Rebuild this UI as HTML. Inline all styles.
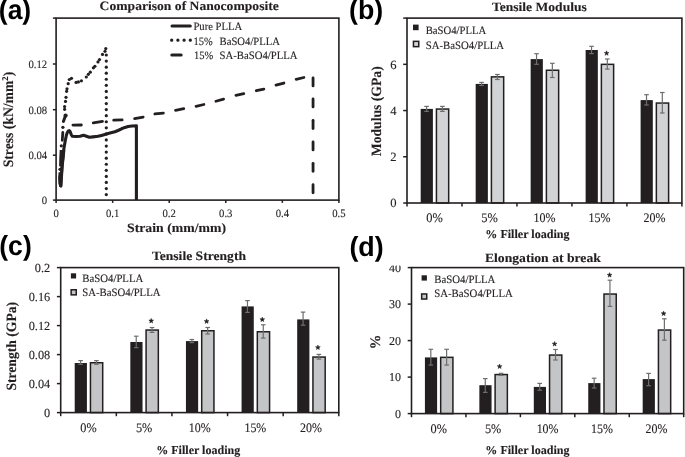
<!DOCTYPE html><html><head><meta charset="utf-8"><style>html,body{margin:0;padding:0;background:#fff;}svg{display:block;text-rendering:geometricPrecision;will-change:transform;}text{font-family:"Liberation Serif",serif;}</style></head><body>
<svg width="685" height="457" viewBox="0 0 685 457">
<rect width="685" height="457" fill="#fff"/>
<rect x="56.1" y="18.1" width="282.79999999999995" height="182.0" fill="none" stroke="#231f20" stroke-width="1.6"/>
<line x1="52.9" y1="200.1" x2="56.1" y2="200.1" stroke="#231f20" stroke-width="1.5"/>
<line x1="52.9" y1="155.2" x2="56.1" y2="155.2" stroke="#231f20" stroke-width="1.5"/>
<line x1="52.9" y1="109.7" x2="56.1" y2="109.7" stroke="#231f20" stroke-width="1.5"/>
<line x1="52.9" y1="64.0" x2="56.1" y2="64.0" stroke="#231f20" stroke-width="1.5"/>
<line x1="52.9" y1="18.1" x2="56.1" y2="18.1" stroke="#231f20" stroke-width="1.5"/>
<line x1="56.1" y1="200.1" x2="56.1" y2="202.9" stroke="#231f20" stroke-width="1.5"/>
<line x1="112.66" y1="200.1" x2="112.66" y2="202.9" stroke="#231f20" stroke-width="1.5"/>
<line x1="169.21999999999997" y1="200.1" x2="169.21999999999997" y2="202.9" stroke="#231f20" stroke-width="1.5"/>
<line x1="225.77999999999997" y1="200.1" x2="225.77999999999997" y2="202.9" stroke="#231f20" stroke-width="1.5"/>
<line x1="282.34" y1="200.1" x2="282.34" y2="202.9" stroke="#231f20" stroke-width="1.5"/>
<line x1="338.9" y1="200.1" x2="338.9" y2="202.9" stroke="#231f20" stroke-width="1.5"/>
<g font-family="Liberation Serif" fill="#231f20" stroke="#231f20" stroke-width="0.12">
<text x="47.2" y="203.9" font-size="11.3" text-anchor="end" textLength="5.35" lengthAdjust="spacingAndGlyphs" >0</text>
<text x="47.2" y="159.0" font-size="11.3" text-anchor="end" textLength="18.73" lengthAdjust="spacingAndGlyphs" >0.04</text>
<text x="47.2" y="113.5" font-size="11.3" text-anchor="end" textLength="18.73" lengthAdjust="spacingAndGlyphs" >0.08</text>
<text x="47.2" y="67.8" font-size="11.3" text-anchor="end" textLength="18.73" lengthAdjust="spacingAndGlyphs" >0.12</text>
<text x="56.1" y="216.6" font-size="11.3" text-anchor="middle" textLength="5.35" lengthAdjust="spacingAndGlyphs" >0</text>
<text x="112.66" y="216.6" font-size="11.3" text-anchor="middle" textLength="13.38" lengthAdjust="spacingAndGlyphs" >0.1</text>
<text x="169.22" y="216.6" font-size="11.3" text-anchor="middle" textLength="13.38" lengthAdjust="spacingAndGlyphs" >0.2</text>
<text x="225.78" y="216.6" font-size="11.3" text-anchor="middle" textLength="13.38" lengthAdjust="spacingAndGlyphs" >0.3</text>
<text x="282.34" y="216.6" font-size="11.3" text-anchor="middle" textLength="13.38" lengthAdjust="spacingAndGlyphs" >0.4</text>
<text x="338.9" y="216.6" font-size="11.3" text-anchor="middle" textLength="13.38" lengthAdjust="spacingAndGlyphs" >0.5</text>
<text x="99.6" y="10.0" font-size="12.7" font-weight="bold" text-anchor="start" textLength="179.2" lengthAdjust="spacingAndGlyphs" >Comparison of Nanocomposite</text>
<text x="127" y="232.0" font-size="12.9" font-weight="bold" text-anchor="start" textLength="99" lengthAdjust="spacingAndGlyphs" >Strain (mm/mm)</text>
<text transform="translate(12.9,167.3) rotate(-90)" font-size="14.4" font-weight="bold" textLength="95.5" lengthAdjust="spacingAndGlyphs">Stress (kN/mm<tspan font-size="9" dy="-4.8">2</tspan><tspan dy="4.8">)</tspan></text>
<text x="193.4" y="29.8" font-size="11.2" text-anchor="start" textLength="48.8" lengthAdjust="spacingAndGlyphs" >Pure PLLA</text>
<text x="193.6" y="44.9" font-size="11.2" text-anchor="start" textLength="19.3" lengthAdjust="spacingAndGlyphs" >15%</text>
<text x="219.6" y="44.9" font-size="11.2" text-anchor="start" textLength="60.4" lengthAdjust="spacingAndGlyphs" >BaSO4/PLLA</text>
<text x="194" y="59.0" font-size="11.2" text-anchor="start" textLength="19.3" lengthAdjust="spacingAndGlyphs" >15%</text>
<text x="219.6" y="59.0" font-size="11.2" text-anchor="start" textLength="77.9" lengthAdjust="spacingAndGlyphs" >SA-BaSO4/PLLA</text>
</g>
<line x1="172.0" y1="25.9" x2="190.3" y2="25.9" stroke="#231f20" stroke-width="3.0" stroke-linecap="round"/>
<line x1="171.7" y1="40.2" x2="191" y2="40.2" stroke="#231f20" stroke-width="3.3" stroke-linecap="round" stroke-dasharray="0 6.2"/>
<line x1="171.8" y1="55" x2="181.2" y2="55" stroke="#231f20" stroke-width="3.0" stroke-linecap="round"/>
<path d="M60.7,187.0 L61.0,180 L62.1,165 L63.5,151 L64.5,145 L65.4,140 L66.3,135.5 L67.4,132.3 L68.4,130.9 L69.3,130.6 L70.2,131.8 L71.2,134.6 L72.4,136.2 L76,136.5 L80,136.2 L83.5,135.2 L86.5,136.2 L89.3,137.3 L93,136.9 L97.9,136.3 L101.5,135.4 L105.7,134.3 L110,133.1 L114.9,131.7 L118,130.5 L121.5,128.8 L125,127.4 L128.1,126.5 L132,126 L136.4,125.8 L136.4,200" fill="none" stroke="#231f20" stroke-width="3.1" stroke-linejoin="round"/>
<line x1="72.95" y1="125.09" x2="81.35" y2="125.01" stroke="#231f20" stroke-width="2.8" stroke-linecap="round"/>
<line x1="93.23" y1="122.89" x2="102.47" y2="121.41" stroke="#231f20" stroke-width="2.8" stroke-linecap="round"/>
<line x1="113.65" y1="120.16" x2="122.15" y2="119.94" stroke="#231f20" stroke-width="2.8" stroke-linecap="round"/>
<line x1="134.63" y1="118.65" x2="143.17" y2="117.05" stroke="#231f20" stroke-width="2.8" stroke-linecap="round"/>
<line x1="154.84" y1="113.98" x2="163.36" y2="113.22" stroke="#231f20" stroke-width="2.8" stroke-linecap="round"/>
<line x1="175.53" y1="110.26" x2="183.77" y2="108.74" stroke="#231f20" stroke-width="2.8" stroke-linecap="round"/>
<line x1="196.02" y1="106.30" x2="203.88" y2="104.50" stroke="#231f20" stroke-width="2.8" stroke-linecap="round"/>
<line x1="215.90" y1="101.23" x2="223.60" y2="99.07" stroke="#231f20" stroke-width="2.8" stroke-linecap="round"/>
<line x1="235.92" y1="95.32" x2="243.78" y2="93.68" stroke="#231f20" stroke-width="2.8" stroke-linecap="round"/>
<line x1="256.32" y1="90.72" x2="263.88" y2="89.08" stroke="#231f20" stroke-width="2.8" stroke-linecap="round"/>
<line x1="276.00" y1="85.15" x2="283.90" y2="83.05" stroke="#231f20" stroke-width="2.8" stroke-linecap="round"/>
<line x1="296.12" y1="79.30" x2="303.88" y2="77.50" stroke="#231f20" stroke-width="2.8" stroke-linecap="round"/>
<line x1="313.05" y1="77.95" x2="313.05" y2="85.95" stroke="#231f20" stroke-width="2.8" stroke-linecap="round"/>
<line x1="313.05" y1="98.95" x2="313.05" y2="106.95" stroke="#231f20" stroke-width="2.8" stroke-linecap="round"/>
<line x1="313.05" y1="120.35" x2="313.05" y2="128.55" stroke="#231f20" stroke-width="2.8" stroke-linecap="round"/>
<line x1="313.05" y1="141.95" x2="313.05" y2="149.95" stroke="#231f20" stroke-width="2.8" stroke-linecap="round"/>
<line x1="313.05" y1="163.35" x2="313.05" y2="171.35" stroke="#231f20" stroke-width="2.8" stroke-linecap="round"/>
<line x1="313.05" y1="184.75" x2="313.05" y2="192.85" stroke="#231f20" stroke-width="2.8" stroke-linecap="round"/>
<line x1="62.81" y1="132.35" x2="62.29" y2="140.25" stroke="#231f20" stroke-width="2.8" stroke-linecap="round"/>
<circle cx="105.8" cy="48.6" r="1.6" fill="#231f20"/>
<circle cx="105.0" cy="51.3" r="1.6" fill="#231f20"/>
<circle cx="102.5" cy="54.4" r="1.6" fill="#231f20"/>
<circle cx="99.5" cy="59.6" r="1.6" fill="#231f20"/>
<circle cx="98.0" cy="61.9" r="1.6" fill="#231f20"/>
<circle cx="94.9" cy="66.3" r="1.6" fill="#231f20"/>
<circle cx="93.4" cy="67.8" r="1.6" fill="#231f20"/>
<circle cx="90.3" cy="72.2" r="1.6" fill="#231f20"/>
<circle cx="88.3" cy="74.3" r="1.6" fill="#231f20"/>
<circle cx="86.3" cy="77.0" r="1.6" fill="#231f20"/>
<circle cx="81.4" cy="80.8" r="1.6" fill="#231f20"/>
<circle cx="78.4" cy="81.9" r="1.6" fill="#231f20"/>
<circle cx="76.1" cy="82.4" r="1.6" fill="#231f20"/>
<circle cx="71.5" cy="78.3" r="1.6" fill="#231f20"/>
<circle cx="69.3" cy="79.5" r="1.6" fill="#231f20"/>
<circle cx="68.2" cy="83.7" r="1.6" fill="#231f20"/>
<circle cx="67.0" cy="88.8" r="1.6" fill="#231f20"/>
<circle cx="66.6" cy="91.3" r="1.6" fill="#231f20"/>
<circle cx="66.0" cy="97.3" r="1.6" fill="#231f20"/>
<circle cx="65.5" cy="101.4" r="1.6" fill="#231f20"/>
<circle cx="64.6" cy="106.6" r="1.6" fill="#231f20"/>
<circle cx="64.6" cy="109.3" r="1.6" fill="#231f20"/>
<circle cx="62.9" cy="127.3" r="1.6" fill="#231f20"/>
<circle cx="61.3" cy="145.8" r="1.6" fill="#231f20"/>
<circle cx="60.0" cy="169.3" r="1.6" fill="#231f20"/>
<circle cx="106.3" cy="194.6" r="1.6" fill="#231f20"/>
<circle cx="106.3" cy="188.53" r="1.6" fill="#231f20"/>
<circle cx="106.3" cy="182.46" r="1.6" fill="#231f20"/>
<circle cx="106.3" cy="176.39" r="1.6" fill="#231f20"/>
<circle cx="106.3" cy="170.32" r="1.6" fill="#231f20"/>
<circle cx="106.3" cy="164.25" r="1.6" fill="#231f20"/>
<circle cx="106.3" cy="158.18" r="1.6" fill="#231f20"/>
<circle cx="106.3" cy="152.11" r="1.6" fill="#231f20"/>
<circle cx="106.3" cy="146.04" r="1.6" fill="#231f20"/>
<circle cx="106.3" cy="139.97" r="1.6" fill="#231f20"/>
<circle cx="106.3" cy="133.9" r="1.6" fill="#231f20"/>
<circle cx="106.3" cy="127.83" r="1.6" fill="#231f20"/>
<circle cx="106.3" cy="121.76" r="1.6" fill="#231f20"/>
<circle cx="106.3" cy="115.69" r="1.6" fill="#231f20"/>
<circle cx="106.3" cy="109.62" r="1.6" fill="#231f20"/>
<circle cx="106.3" cy="103.55" r="1.6" fill="#231f20"/>
<circle cx="106.3" cy="97.48" r="1.6" fill="#231f20"/>
<circle cx="106.3" cy="91.41" r="1.6" fill="#231f20"/>
<circle cx="106.3" cy="85.34" r="1.6" fill="#231f20"/>
<circle cx="106.3" cy="79.27" r="1.6" fill="#231f20"/>
<circle cx="106.3" cy="73.2" r="1.6" fill="#231f20"/>
<circle cx="106.3" cy="67.13" r="1.6" fill="#231f20"/>
<circle cx="106.3" cy="61.06" r="1.6" fill="#231f20"/>
<circle cx="106.3" cy="54.99" r="1.6" fill="#231f20"/>
<circle cx="65.6" cy="115.6" r="2.1" fill="#231f20"/>
<line x1="65.2" y1="116.5" x2="63.4" y2="121.4" stroke="#231f20" stroke-width="3.0" stroke-linecap="round"/>
<polygon points="59.7,150 65.4,150 64.6,158 63.7,166 63.3,172 62.8,180 62.4,185.5 61.6,187.8 60.2,187.6 58.4,184 58.1,178 58.6,172.3 60.6,172.3 61.0,169.5 60.6,166.3 59.1,166.3 59.3,158" fill="#231f20"/>
<rect x="420.69" y="108.9" width="12.20" height="94.10" fill="#231f20"/>
<rect x="436.44" y="109.05" width="12.25" height="93.95" fill="#d1d3d4" stroke="#231f20" stroke-width="1.5"/>
<line x1="426.59" y1="106.4" x2="426.59" y2="111.4" stroke="#6d6e70" stroke-width="1.2"/>
<line x1="424.28999999999996" y1="106.4" x2="428.89" y2="106.4" stroke="#6d6e70" stroke-width="1.2"/>
<line x1="424.28999999999996" y1="111.4" x2="428.89" y2="111.4" stroke="#6d6e70" stroke-width="1.2"/>
<line x1="442.39" y1="106.4" x2="442.39" y2="111.4" stroke="#6d6e70" stroke-width="1.2"/>
<line x1="440.09" y1="106.4" x2="444.69" y2="106.4" stroke="#6d6e70" stroke-width="1.2"/>
<line x1="440.09" y1="111.4" x2="444.69" y2="111.4" stroke="#6d6e70" stroke-width="1.2"/>
<rect x="475.67" y="83.9" width="12.20" height="119.10" fill="#231f20"/>
<rect x="491.42" y="76.85" width="12.25" height="126.15" fill="#d1d3d4" stroke="#231f20" stroke-width="1.5"/>
<line x1="481.57" y1="82.4" x2="481.57" y2="85.5" stroke="#6d6e70" stroke-width="1.2"/>
<line x1="479.27" y1="82.4" x2="483.87" y2="82.4" stroke="#6d6e70" stroke-width="1.2"/>
<line x1="479.27" y1="85.5" x2="483.87" y2="85.5" stroke="#6d6e70" stroke-width="1.2"/>
<line x1="497.37" y1="74.5" x2="497.37" y2="79.5" stroke="#6d6e70" stroke-width="1.2"/>
<line x1="495.07" y1="74.5" x2="499.67" y2="74.5" stroke="#6d6e70" stroke-width="1.2"/>
<line x1="495.07" y1="79.5" x2="499.67" y2="79.5" stroke="#6d6e70" stroke-width="1.2"/>
<rect x="530.65" y="59.1" width="12.20" height="143.90" fill="#231f20"/>
<rect x="546.40" y="70.25" width="12.25" height="132.75" fill="#d1d3d4" stroke="#231f20" stroke-width="1.5"/>
<line x1="536.55" y1="53.7" x2="536.55" y2="64.3" stroke="#6d6e70" stroke-width="1.2"/>
<line x1="534.25" y1="53.7" x2="538.8499999999999" y2="53.7" stroke="#6d6e70" stroke-width="1.2"/>
<line x1="534.25" y1="64.3" x2="538.8499999999999" y2="64.3" stroke="#6d6e70" stroke-width="1.2"/>
<line x1="552.35" y1="63.3" x2="552.35" y2="77.5" stroke="#6d6e70" stroke-width="1.2"/>
<line x1="550.0500000000001" y1="63.3" x2="554.65" y2="63.3" stroke="#6d6e70" stroke-width="1.2"/>
<line x1="550.0500000000001" y1="77.5" x2="554.65" y2="77.5" stroke="#6d6e70" stroke-width="1.2"/>
<rect x="585.63" y="50.0" width="12.20" height="153.00" fill="#231f20"/>
<rect x="601.38" y="64.35" width="12.25" height="138.65" fill="#d1d3d4" stroke="#231f20" stroke-width="1.5"/>
<line x1="591.53" y1="46.3" x2="591.53" y2="53.6" stroke="#6d6e70" stroke-width="1.2"/>
<line x1="589.23" y1="46.3" x2="593.8299999999999" y2="46.3" stroke="#6d6e70" stroke-width="1.2"/>
<line x1="589.23" y1="53.6" x2="593.8299999999999" y2="53.6" stroke="#6d6e70" stroke-width="1.2"/>
<line x1="607.33" y1="59.0" x2="607.33" y2="69.1" stroke="#6d6e70" stroke-width="1.2"/>
<line x1="605.0300000000001" y1="59.0" x2="609.63" y2="59.0" stroke="#6d6e70" stroke-width="1.2"/>
<line x1="605.0300000000001" y1="69.1" x2="609.63" y2="69.1" stroke="#6d6e70" stroke-width="1.2"/>
<rect x="640.61" y="100.1" width="12.20" height="102.90" fill="#231f20"/>
<rect x="656.36" y="103.05" width="12.25" height="99.95" fill="#d1d3d4" stroke="#231f20" stroke-width="1.5"/>
<line x1="646.51" y1="94.7" x2="646.51" y2="105.0" stroke="#6d6e70" stroke-width="1.2"/>
<line x1="644.21" y1="94.7" x2="648.81" y2="94.7" stroke="#6d6e70" stroke-width="1.2"/>
<line x1="644.21" y1="105.0" x2="648.81" y2="105.0" stroke="#6d6e70" stroke-width="1.2"/>
<line x1="662.31" y1="92.5" x2="662.31" y2="113.0" stroke="#6d6e70" stroke-width="1.2"/>
<line x1="660.01" y1="92.5" x2="664.6099999999999" y2="92.5" stroke="#6d6e70" stroke-width="1.2"/>
<line x1="660.01" y1="113.0" x2="664.6099999999999" y2="113.0" stroke="#6d6e70" stroke-width="1.2"/>
<polygon points="606.60,50.80 607.22,52.45 608.98,52.53 607.60,53.62 608.07,55.32 606.60,54.35 605.13,55.32 605.60,53.62 604.22,52.53 605.98,52.45" fill="#231f20" stroke="#231f20" stroke-width="0.5" stroke-linejoin="round"/>
<rect x="407.0" y="18.1" width="274.9" height="184.9" fill="none" stroke="#231f20" stroke-width="1.6"/>
<line x1="403.2" y1="203.0" x2="407.0" y2="203.0" stroke="#231f20" stroke-width="1.5"/>
<line x1="403.2" y1="156.775" x2="407.0" y2="156.775" stroke="#231f20" stroke-width="1.5"/>
<line x1="403.2" y1="110.55" x2="407.0" y2="110.55" stroke="#231f20" stroke-width="1.5"/>
<line x1="403.2" y1="64.32499999999999" x2="407.0" y2="64.32499999999999" stroke="#231f20" stroke-width="1.5"/>
<line x1="403.2" y1="18.099999999999994" x2="407.0" y2="18.099999999999994" stroke="#231f20" stroke-width="1.5"/>
<line x1="407.0" y1="203.0" x2="407.0" y2="206.6" stroke="#231f20" stroke-width="1.5"/>
<line x1="461.98" y1="203.0" x2="461.98" y2="206.6" stroke="#231f20" stroke-width="1.5"/>
<line x1="516.96" y1="203.0" x2="516.96" y2="206.6" stroke="#231f20" stroke-width="1.5"/>
<line x1="571.94" y1="203.0" x2="571.94" y2="206.6" stroke="#231f20" stroke-width="1.5"/>
<line x1="626.92" y1="203.0" x2="626.92" y2="206.6" stroke="#231f20" stroke-width="1.5"/>
<line x1="681.9" y1="203.0" x2="681.9" y2="206.6" stroke="#231f20" stroke-width="1.5"/>
<g font-family="Liberation Serif" fill="#231f20" stroke="#231f20" stroke-width="0.12">
<text x="396.5" y="207.3" font-size="12.6" text-anchor="end" >0</text>
<text x="396.5" y="161.08" font-size="12.6" text-anchor="end" >2</text>
<text x="396.5" y="114.85" font-size="12.6" text-anchor="end" >4</text>
<text x="396.5" y="68.62" font-size="12.6" text-anchor="end" >6</text>
<text x="434.49" y="221.8" font-size="13.0" text-anchor="middle" textLength="16.6" lengthAdjust="spacingAndGlyphs" >0%</text>
<text x="489.47" y="221.8" font-size="13.0" text-anchor="middle" textLength="16.6" lengthAdjust="spacingAndGlyphs" >5%</text>
<text x="544.45" y="221.8" font-size="13.0" text-anchor="middle" textLength="22.0" lengthAdjust="spacingAndGlyphs" >10%</text>
<text x="599.43" y="221.8" font-size="13.0" text-anchor="middle" textLength="22.0" lengthAdjust="spacingAndGlyphs" >15%</text>
<text x="654.41" y="221.8" font-size="13.0" text-anchor="middle" textLength="22.0" lengthAdjust="spacingAndGlyphs" >20%</text>
<text x="491.9" y="10.6" font-size="12.7" font-weight="bold" text-anchor="start" textLength="94.9" lengthAdjust="spacingAndGlyphs" >Tensile Modulus</text>
<text x="485.3" y="238.3" font-size="12.1" font-weight="bold" text-anchor="start" textLength="84.3" lengthAdjust="spacingAndGlyphs" >% Filler loading</text>
<text transform="translate(380.8,156.2) rotate(-90)" font-size="14.2" font-weight="bold" textLength="89.9" lengthAdjust="spacingAndGlyphs">Modulus (GPa)</text>
<text x="425.7" y="33.8" font-size="11.2" text-anchor="start" textLength="60.6" lengthAdjust="spacingAndGlyphs" >BaSO4/PLLA</text>
<text x="425.7" y="49.0" font-size="11.2" text-anchor="start" textLength="78.4" lengthAdjust="spacingAndGlyphs" >SA-BaSO4/PLLA</text>
</g>
<rect x="413.0" y="24.6" width="5.6" height="5.6" fill="#231f20"/>
<rect x="413.45" y="41.35" width="5.3" height="5.3" fill="#d1d3d4" stroke="#231f20" stroke-width="1.5"/>
<rect x="74.71" y="363.0" width="12.20" height="49.60" fill="#231f20"/>
<rect x="90.46" y="362.75" width="12.25" height="49.85" fill="#c4c5c7" stroke="#231f20" stroke-width="1.5"/>
<line x1="80.61" y1="360.6" x2="80.61" y2="364.3" stroke="#6d6e70" stroke-width="1.2"/>
<line x1="78.31" y1="360.6" x2="82.91" y2="360.6" stroke="#6d6e70" stroke-width="1.2"/>
<line x1="78.31" y1="364.3" x2="82.91" y2="364.3" stroke="#6d6e70" stroke-width="1.2"/>
<line x1="96.41" y1="360.6" x2="96.41" y2="364.3" stroke="#6d6e70" stroke-width="1.2"/>
<line x1="94.11" y1="360.6" x2="98.71" y2="360.6" stroke="#6d6e70" stroke-width="1.2"/>
<line x1="94.11" y1="364.3" x2="98.71" y2="364.3" stroke="#6d6e70" stroke-width="1.2"/>
<rect x="130.33" y="342.0" width="12.20" height="70.60" fill="#231f20"/>
<rect x="146.08" y="330.05" width="12.25" height="82.55" fill="#c4c5c7" stroke="#231f20" stroke-width="1.5"/>
<line x1="136.23" y1="336.2" x2="136.23" y2="347.7" stroke="#6d6e70" stroke-width="1.2"/>
<line x1="133.92999999999998" y1="336.2" x2="138.53" y2="336.2" stroke="#6d6e70" stroke-width="1.2"/>
<line x1="133.92999999999998" y1="347.7" x2="138.53" y2="347.7" stroke="#6d6e70" stroke-width="1.2"/>
<line x1="152.03" y1="327.5" x2="152.03" y2="332.4" stroke="#6d6e70" stroke-width="1.2"/>
<line x1="149.73" y1="327.5" x2="154.33" y2="327.5" stroke="#6d6e70" stroke-width="1.2"/>
<line x1="149.73" y1="332.4" x2="154.33" y2="332.4" stroke="#6d6e70" stroke-width="1.2"/>
<rect x="185.95" y="341.1" width="12.20" height="71.50" fill="#231f20"/>
<rect x="201.70" y="330.75" width="12.25" height="81.85" fill="#c4c5c7" stroke="#231f20" stroke-width="1.5"/>
<line x1="191.85" y1="339.5" x2="191.85" y2="342.6" stroke="#6d6e70" stroke-width="1.2"/>
<line x1="189.54999999999998" y1="339.5" x2="194.15" y2="339.5" stroke="#6d6e70" stroke-width="1.2"/>
<line x1="189.54999999999998" y1="342.6" x2="194.15" y2="342.6" stroke="#6d6e70" stroke-width="1.2"/>
<line x1="207.65" y1="327.5" x2="207.65" y2="334.0" stroke="#6d6e70" stroke-width="1.2"/>
<line x1="205.35" y1="327.5" x2="209.95000000000002" y2="327.5" stroke="#6d6e70" stroke-width="1.2"/>
<line x1="205.35" y1="334.0" x2="209.95000000000002" y2="334.0" stroke="#6d6e70" stroke-width="1.2"/>
<rect x="241.57" y="306.4" width="12.20" height="106.20" fill="#231f20"/>
<rect x="257.32" y="331.75" width="12.25" height="80.85" fill="#c4c5c7" stroke="#231f20" stroke-width="1.5"/>
<line x1="247.47" y1="300.6" x2="247.47" y2="312.4" stroke="#6d6e70" stroke-width="1.2"/>
<line x1="245.17" y1="300.6" x2="249.77" y2="300.6" stroke="#6d6e70" stroke-width="1.2"/>
<line x1="245.17" y1="312.4" x2="249.77" y2="312.4" stroke="#6d6e70" stroke-width="1.2"/>
<line x1="263.27" y1="324.8" x2="263.27" y2="338.1" stroke="#6d6e70" stroke-width="1.2"/>
<line x1="260.96999999999997" y1="324.8" x2="265.57" y2="324.8" stroke="#6d6e70" stroke-width="1.2"/>
<line x1="260.96999999999997" y1="338.1" x2="265.57" y2="338.1" stroke="#6d6e70" stroke-width="1.2"/>
<rect x="297.19" y="319.4" width="12.20" height="93.20" fill="#231f20"/>
<rect x="312.94" y="357.05" width="12.25" height="55.55" fill="#c4c5c7" stroke="#231f20" stroke-width="1.5"/>
<line x1="303.09" y1="312.1" x2="303.09" y2="325.2" stroke="#6d6e70" stroke-width="1.2"/>
<line x1="300.78999999999996" y1="312.1" x2="305.39" y2="312.1" stroke="#6d6e70" stroke-width="1.2"/>
<line x1="300.78999999999996" y1="325.2" x2="305.39" y2="325.2" stroke="#6d6e70" stroke-width="1.2"/>
<line x1="318.89" y1="354.4" x2="318.89" y2="359.1" stroke="#6d6e70" stroke-width="1.2"/>
<line x1="316.59" y1="354.4" x2="321.19" y2="354.4" stroke="#6d6e70" stroke-width="1.2"/>
<line x1="316.59" y1="359.1" x2="321.19" y2="359.1" stroke="#6d6e70" stroke-width="1.2"/>
<polygon points="151.20,318.40 151.82,320.05 153.58,320.13 152.20,321.22 152.67,322.92 151.20,321.95 149.73,322.92 150.20,321.22 148.82,320.13 150.58,320.05" fill="#231f20" stroke="#231f20" stroke-width="0.5" stroke-linejoin="round"/>
<polygon points="206.60,318.90 207.22,320.55 208.98,320.63 207.60,321.72 208.07,323.42 206.60,322.45 205.13,323.42 205.60,321.72 204.22,320.63 205.98,320.55" fill="#231f20" stroke="#231f20" stroke-width="0.5" stroke-linejoin="round"/>
<polygon points="262.30,317.10 262.92,318.75 264.68,318.83 263.30,319.92 263.77,321.62 262.30,320.65 260.83,321.62 261.30,319.92 259.92,318.83 261.68,318.75" fill="#231f20" stroke="#231f20" stroke-width="0.5" stroke-linejoin="round"/>
<polygon points="317.90,345.00 318.52,346.65 320.28,346.73 318.90,347.82 319.37,349.52 317.90,348.55 316.43,349.52 316.90,347.82 315.52,346.73 317.28,346.65" fill="#231f20" stroke="#231f20" stroke-width="0.5" stroke-linejoin="round"/>
<rect x="60.7" y="267.6" width="278.1" height="145.0" fill="none" stroke="#231f20" stroke-width="1.6"/>
<line x1="56.900000000000006" y1="412.6" x2="60.7" y2="412.6" stroke="#231f20" stroke-width="1.5"/>
<line x1="56.900000000000006" y1="383.6" x2="60.7" y2="383.6" stroke="#231f20" stroke-width="1.5"/>
<line x1="56.900000000000006" y1="354.6" x2="60.7" y2="354.6" stroke="#231f20" stroke-width="1.5"/>
<line x1="56.900000000000006" y1="325.6" x2="60.7" y2="325.6" stroke="#231f20" stroke-width="1.5"/>
<line x1="56.900000000000006" y1="296.6" x2="60.7" y2="296.6" stroke="#231f20" stroke-width="1.5"/>
<line x1="56.900000000000006" y1="267.6" x2="60.7" y2="267.6" stroke="#231f20" stroke-width="1.5"/>
<line x1="60.7" y1="412.6" x2="60.7" y2="416.20000000000005" stroke="#231f20" stroke-width="1.5"/>
<line x1="116.32000000000001" y1="412.6" x2="116.32000000000001" y2="416.20000000000005" stroke="#231f20" stroke-width="1.5"/>
<line x1="171.94" y1="412.6" x2="171.94" y2="416.20000000000005" stroke="#231f20" stroke-width="1.5"/>
<line x1="227.56" y1="412.6" x2="227.56" y2="416.20000000000005" stroke="#231f20" stroke-width="1.5"/>
<line x1="283.18" y1="412.6" x2="283.18" y2="416.20000000000005" stroke="#231f20" stroke-width="1.5"/>
<line x1="338.8" y1="412.6" x2="338.8" y2="416.20000000000005" stroke="#231f20" stroke-width="1.5"/>
<g font-family="Liberation Serif" fill="#231f20" stroke="#231f20" stroke-width="0.12">
<text x="50.2" y="416.9" font-size="12.3" text-anchor="end" >0</text>
<text x="50.2" y="387.9" font-size="12.3" text-anchor="end" >0.04</text>
<text x="50.2" y="358.9" font-size="12.3" text-anchor="end" >0.08</text>
<text x="50.2" y="329.9" font-size="12.3" text-anchor="end" >0.12</text>
<text x="50.2" y="300.9" font-size="12.3" text-anchor="end" >0.16</text>
<text x="50.2" y="271.9" font-size="12.3" text-anchor="end" >0.2</text>
<text x="88.51" y="431.9" font-size="13.0" text-anchor="middle" textLength="16.4" lengthAdjust="spacingAndGlyphs" >0%</text>
<text x="144.13" y="431.9" font-size="13.0" text-anchor="middle" textLength="16.4" lengthAdjust="spacingAndGlyphs" >5%</text>
<text x="199.75" y="431.9" font-size="13.0" text-anchor="middle" textLength="21.9" lengthAdjust="spacingAndGlyphs" >10%</text>
<text x="255.37" y="431.9" font-size="13.0" text-anchor="middle" textLength="21.9" lengthAdjust="spacingAndGlyphs" >15%</text>
<text x="310.99" y="431.9" font-size="13.0" text-anchor="middle" textLength="21.9" lengthAdjust="spacingAndGlyphs" >20%</text>
<text x="151.9" y="259.7" font-size="12.7" font-weight="bold" text-anchor="start" textLength="94.1" lengthAdjust="spacingAndGlyphs" >Tensile Strength</text>
<text x="156.2" y="454.4" font-size="12.1" font-weight="bold" text-anchor="start" textLength="84.1" lengthAdjust="spacingAndGlyphs" >% Filler loading</text>
<text transform="translate(15.7,390.6) rotate(-90)" font-size="14.2" font-weight="bold" textLength="88.7" lengthAdjust="spacingAndGlyphs">Strength (GPa)</text>
<text x="82.3" y="281.5" font-size="11.2" text-anchor="start" textLength="61.0" lengthAdjust="spacingAndGlyphs" >BaSO4/PLLA</text>
<text x="82.3" y="295.8" font-size="11.2" text-anchor="start" textLength="78.2" lengthAdjust="spacingAndGlyphs" >SA-BaSO4/PLLA</text>
</g>
<rect x="70.9" y="273.3" width="5.2" height="5.2" fill="#231f20"/>
<rect x="71.15" y="289.75" width="5.1" height="5.1" fill="#c4c5c7" stroke="#231f20" stroke-width="1.5"/>
<rect x="424.92" y="357.4" width="12.20" height="56.20" fill="#231f20"/>
<rect x="440.67" y="357.35" width="12.25" height="56.25" fill="#c4c5c7" stroke="#231f20" stroke-width="1.5"/>
<line x1="430.82" y1="349.3" x2="430.82" y2="365.1" stroke="#6d6e70" stroke-width="1.2"/>
<line x1="428.52" y1="349.3" x2="433.12" y2="349.3" stroke="#6d6e70" stroke-width="1.2"/>
<line x1="428.52" y1="365.1" x2="433.12" y2="365.1" stroke="#6d6e70" stroke-width="1.2"/>
<line x1="446.62" y1="349.3" x2="446.62" y2="365.1" stroke="#6d6e70" stroke-width="1.2"/>
<line x1="444.32" y1="349.3" x2="448.92" y2="349.3" stroke="#6d6e70" stroke-width="1.2"/>
<line x1="444.32" y1="365.1" x2="448.92" y2="365.1" stroke="#6d6e70" stroke-width="1.2"/>
<rect x="479.36" y="385.2" width="12.20" height="28.40" fill="#231f20"/>
<rect x="495.11" y="374.55" width="12.25" height="39.05" fill="#c4c5c7" stroke="#231f20" stroke-width="1.5"/>
<line x1="485.26" y1="378.6" x2="485.26" y2="392.4" stroke="#6d6e70" stroke-width="1.2"/>
<line x1="482.96" y1="378.6" x2="487.56" y2="378.6" stroke="#6d6e70" stroke-width="1.2"/>
<line x1="482.96" y1="392.4" x2="487.56" y2="392.4" stroke="#6d6e70" stroke-width="1.2"/>
<line x1="501.06" y1="373.3" x2="501.06" y2="375.4" stroke="#6d6e70" stroke-width="1.2"/>
<line x1="498.76" y1="373.3" x2="503.36" y2="373.3" stroke="#6d6e70" stroke-width="1.2"/>
<line x1="498.76" y1="375.4" x2="503.36" y2="375.4" stroke="#6d6e70" stroke-width="1.2"/>
<rect x="533.80" y="386.9" width="12.20" height="26.70" fill="#231f20"/>
<rect x="549.55" y="355.05" width="12.25" height="58.55" fill="#c4c5c7" stroke="#231f20" stroke-width="1.5"/>
<line x1="539.7" y1="383.4" x2="539.7" y2="390.2" stroke="#6d6e70" stroke-width="1.2"/>
<line x1="537.4000000000001" y1="383.4" x2="542.0" y2="383.4" stroke="#6d6e70" stroke-width="1.2"/>
<line x1="537.4000000000001" y1="390.2" x2="542.0" y2="390.2" stroke="#6d6e70" stroke-width="1.2"/>
<line x1="555.5" y1="349.5" x2="555.5" y2="360.0" stroke="#6d6e70" stroke-width="1.2"/>
<line x1="553.2" y1="349.5" x2="557.8" y2="349.5" stroke="#6d6e70" stroke-width="1.2"/>
<line x1="553.2" y1="360.0" x2="557.8" y2="360.0" stroke="#6d6e70" stroke-width="1.2"/>
<rect x="588.24" y="383.1" width="12.20" height="30.50" fill="#231f20"/>
<rect x="603.99" y="294.05" width="12.25" height="119.55" fill="#c4c5c7" stroke="#231f20" stroke-width="1.5"/>
<line x1="594.14" y1="378.2" x2="594.14" y2="388.0" stroke="#6d6e70" stroke-width="1.2"/>
<line x1="591.84" y1="378.2" x2="596.4399999999999" y2="378.2" stroke="#6d6e70" stroke-width="1.2"/>
<line x1="591.84" y1="388.0" x2="596.4399999999999" y2="388.0" stroke="#6d6e70" stroke-width="1.2"/>
<line x1="609.94" y1="280.2" x2="609.94" y2="306.4" stroke="#6d6e70" stroke-width="1.2"/>
<line x1="607.6400000000001" y1="280.2" x2="612.24" y2="280.2" stroke="#6d6e70" stroke-width="1.2"/>
<line x1="607.6400000000001" y1="306.4" x2="612.24" y2="306.4" stroke="#6d6e70" stroke-width="1.2"/>
<rect x="642.68" y="379.1" width="12.20" height="34.50" fill="#231f20"/>
<rect x="658.43" y="330.05" width="12.25" height="83.55" fill="#c4c5c7" stroke="#231f20" stroke-width="1.5"/>
<line x1="648.58" y1="373.4" x2="648.58" y2="385.7" stroke="#6d6e70" stroke-width="1.2"/>
<line x1="646.2800000000001" y1="373.4" x2="650.88" y2="373.4" stroke="#6d6e70" stroke-width="1.2"/>
<line x1="646.2800000000001" y1="385.7" x2="650.88" y2="385.7" stroke="#6d6e70" stroke-width="1.2"/>
<line x1="664.38" y1="318.8" x2="664.38" y2="340.2" stroke="#6d6e70" stroke-width="1.2"/>
<line x1="662.08" y1="318.8" x2="666.68" y2="318.8" stroke="#6d6e70" stroke-width="1.2"/>
<line x1="662.08" y1="340.2" x2="666.68" y2="340.2" stroke="#6d6e70" stroke-width="1.2"/>
<polygon points="499.60,364.00 500.22,365.65 501.98,365.73 500.60,366.82 501.07,368.52 499.60,367.55 498.13,368.52 498.60,366.82 497.22,365.73 498.98,365.65" fill="#231f20" stroke="#231f20" stroke-width="0.5" stroke-linejoin="round"/>
<polygon points="554.60,341.50 555.22,343.15 556.98,343.23 555.60,344.32 556.07,346.02 554.60,345.05 553.13,346.02 553.60,344.32 552.22,343.23 553.98,343.15" fill="#231f20" stroke="#231f20" stroke-width="0.5" stroke-linejoin="round"/>
<polygon points="609.60,272.60 610.22,274.25 611.98,274.33 610.60,275.42 611.07,277.12 609.60,276.15 608.13,277.12 608.60,275.42 607.22,274.33 608.98,274.25" fill="#231f20" stroke="#231f20" stroke-width="0.5" stroke-linejoin="round"/>
<polygon points="663.60,311.10 664.22,312.75 665.98,312.83 664.60,313.92 665.07,315.62 663.60,314.65 662.13,315.62 662.60,313.92 661.22,312.83 662.98,312.75" fill="#231f20" stroke="#231f20" stroke-width="0.5" stroke-linejoin="round"/>
<rect x="411.5" y="267.6" width="272.20000000000005" height="146.0" fill="none" stroke="#231f20" stroke-width="1.6"/>
<line x1="407.7" y1="413.6" x2="411.5" y2="413.6" stroke="#231f20" stroke-width="1.5"/>
<line x1="407.7" y1="377.1" x2="411.5" y2="377.1" stroke="#231f20" stroke-width="1.5"/>
<line x1="407.7" y1="340.6" x2="411.5" y2="340.6" stroke="#231f20" stroke-width="1.5"/>
<line x1="407.7" y1="304.1" x2="411.5" y2="304.1" stroke="#231f20" stroke-width="1.5"/>
<line x1="407.7" y1="267.6" x2="411.5" y2="267.6" stroke="#231f20" stroke-width="1.5"/>
<line x1="411.5" y1="413.6" x2="411.5" y2="417.20000000000005" stroke="#231f20" stroke-width="1.5"/>
<line x1="465.94" y1="413.6" x2="465.94" y2="417.20000000000005" stroke="#231f20" stroke-width="1.5"/>
<line x1="520.38" y1="413.6" x2="520.38" y2="417.20000000000005" stroke="#231f20" stroke-width="1.5"/>
<line x1="574.82" y1="413.6" x2="574.82" y2="417.20000000000005" stroke="#231f20" stroke-width="1.5"/>
<line x1="629.26" y1="413.6" x2="629.26" y2="417.20000000000005" stroke="#231f20" stroke-width="1.5"/>
<line x1="683.7" y1="413.6" x2="683.7" y2="417.20000000000005" stroke="#231f20" stroke-width="1.5"/>
<g font-family="Liberation Serif" fill="#231f20" stroke="#231f20" stroke-width="0.12">
<text x="400.9" y="417.9" font-size="12.0" text-anchor="end" >0</text>
<text x="400.9" y="381.4" font-size="12.0" text-anchor="end" >10</text>
<text x="400.9" y="344.9" font-size="12.0" text-anchor="end" >20</text>
<text x="400.9" y="308.4" font-size="12.0" text-anchor="end" >30</text>
<text x="400.9" y="271.9" font-size="12.0" text-anchor="end" >40</text>
<text x="438.72" y="432.9" font-size="13.0" text-anchor="middle" textLength="16.4" lengthAdjust="spacingAndGlyphs" >0%</text>
<text x="493.16" y="432.9" font-size="13.0" text-anchor="middle" textLength="16.4" lengthAdjust="spacingAndGlyphs" >5%</text>
<text x="547.6" y="432.9" font-size="13.0" text-anchor="middle" textLength="21.9" lengthAdjust="spacingAndGlyphs" >10%</text>
<text x="602.04" y="432.9" font-size="13.0" text-anchor="middle" textLength="21.9" lengthAdjust="spacingAndGlyphs" >15%</text>
<text x="656.48" y="432.9" font-size="13.0" text-anchor="middle" textLength="21.9" lengthAdjust="spacingAndGlyphs" >20%</text>
<text x="484.9" y="262.29999999999995" font-size="12.7" font-weight="bold" text-anchor="start" textLength="116.0" lengthAdjust="spacingAndGlyphs" >Elongation at break</text>
<text x="485.3" y="454.0" font-size="12.1" font-weight="bold" text-anchor="start" textLength="84.3" lengthAdjust="spacingAndGlyphs" >% Filler loading</text>
<text transform="translate(379.6,349.3) rotate(-90)" font-size="14.6" font-weight="bold">%</text>
<text x="434.2" y="282.6" font-size="11.2" text-anchor="start" textLength="61.2" lengthAdjust="spacingAndGlyphs" >BaSO4/PLLA</text>
<text x="434.2" y="297.0" font-size="11.2" text-anchor="start" textLength="78.6" lengthAdjust="spacingAndGlyphs" >SA-BaSO4/PLLA</text>
</g>
<rect x="421.6" y="275.3" width="5.3" height="5.3" fill="#231f20"/>
<rect x="421.65" y="293.95" width="5.1" height="5.1" fill="#c4c5c7" stroke="#231f20" stroke-width="1.5"/>
<rect x="385" y="255" width="20" height="10.6" fill="#fff"/>
<text x="-1.2" y="19.1" style="font-family:'Liberation Sans',sans-serif" font-size="27.5" font-weight="bold" textLength="32.4" lengthAdjust="spacingAndGlyphs">(a)</text>
<text x="349.1" y="18.9" style="font-family:'Liberation Sans',sans-serif" font-size="27.5" font-weight="bold" textLength="34.2" lengthAdjust="spacingAndGlyphs">(b)</text>
<text x="-0.75" y="255.4" style="font-family:'Liberation Sans',sans-serif" font-size="27.5" font-weight="bold" textLength="32.5" lengthAdjust="spacingAndGlyphs">(c)</text>
<text x="349.4" y="255.7" style="font-family:'Liberation Sans',sans-serif" font-size="27.5" font-weight="bold" textLength="34.3" lengthAdjust="spacingAndGlyphs">(d)</text>
</svg></body></html>
